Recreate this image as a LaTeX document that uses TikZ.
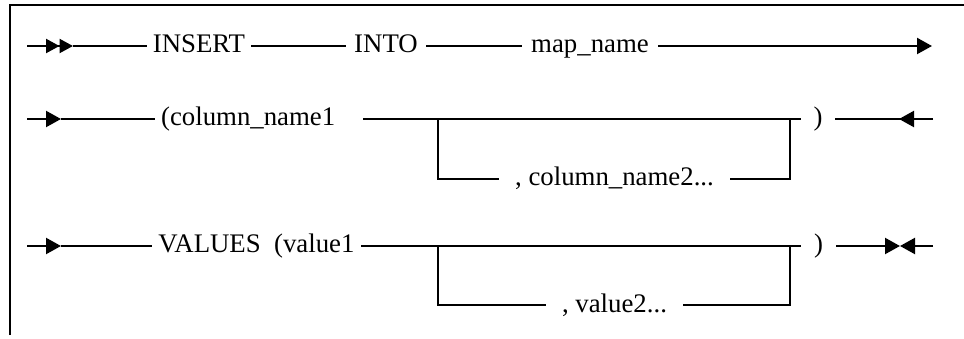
\documentclass[tikz,border=0pt]{standalone}
\usepackage{fontspec}
\setmainfont{Liberation Serif}
\newcommand{\SynFont}{\fontsize{26.8}{30}\selectfont}
\usetikzlibrary{arrows.meta}

\begin{document}
\begin{tikzpicture}[
                x=1pt, y=-1pt,
                line width=2.2pt,
                word/.style={font=\SynFont, inner xsep=0pt, inner ysep=2pt, text height=20pt, text depth=6pt, anchor=base},
                syntip/.style={-{Triangle[length=15pt,width=16pt]}},
                dbltip/.style={-{Triangle[length=13.5pt,width=14pt,sep=0pt]Triangle[length=13.5pt,width=14pt,sep=0pt]}},
            ]
            \useasboundingbox (0,0) rectangle (964,339);

            % Frame
            \draw (10,335) -- (10,5) -- (964,5);

            % Row 1: INSERT INTO map_name
            \coordinate (s1) at (27,46);
            \coordinate (d1) at (73,46);
            \coordinate (e1) at (932,46);
            \node[word, minimum width=102pt] (insert) at (199,53)  {INSERT};
            \node[word, minimum width=78pt]  (into)   at (386,53)  {INTO};
            \node[word, minimum width=134pt] (map)    at (590,53)  {map\_name};
            \draw[dbltip] (s1) -- (d1);
            \draw (d1) -- (insert.west);
            \draw (insert.east) -- (into.west);
            \draw (into.east) -- (map.west);
            \draw[syntip] (map.east) -- (e1);

            % Row 2: column list
            \coordinate (s2)  at (27,119);
            \coordinate (d2)  at (61,119);
            \coordinate (e2)  at (933,119);
            \coordinate (t2)  at (899,119);
            \coordinate (jl1) at (438,119);
            \coordinate (jr1) at (790,119);
            \node[word, anchor=base west, inner xsep=5pt] (col1) at (155,126) {(column\_name1\kern22pt};
            \node[word, minimum width=32pt]  (rp1)  at (818,126)   {)};
            \node[word, minimum width=229pt] (col2) at (614.5,186) {, column\_name2...};
            \draw[syntip] (s2) -- (d2);
            \draw (d2) -- (col1.west);
            \draw (col1.east) -- (rp1.west);
            \draw (jl1) |- (col2.west);
            \draw (col2.east) -| (jr1);
            \draw (rp1.east) -- (e2);
            \draw[syntip] (e2) -- (t2);

            % Row 3: value list
            \coordinate (s3)  at (27,246);
            \coordinate (d3)  at (61,246);
            \coordinate (e3)  at (933,246);
            \coordinate (m3)  at (900,246);
            \coordinate (jl2) at (438,246);
            \coordinate (jr2) at (790,246);
            \node[word, minimum width=207pt] (val1) at (256.5,253) {VALUES\hspace{0.5em}(value1};
            \node[word, minimum width=33pt]  (rp2)  at (818.5,253) {)};
            \node[word, minimum width=135pt] (val2) at (614.5,312) {, value2...};
            \draw[syntip] (s3) -- (d3);
            \draw (d3) -- (val1.west);
            \draw (val1.east) -- (rp2.west);
            \draw (jl2) |- (val2.west);
            \draw (val2.east) -| (jr2);
            \draw[syntip] (rp2.east) -- (m3);
            \draw[syntip] (e3) -- (m3);
        \end{tikzpicture}
\end{document}
